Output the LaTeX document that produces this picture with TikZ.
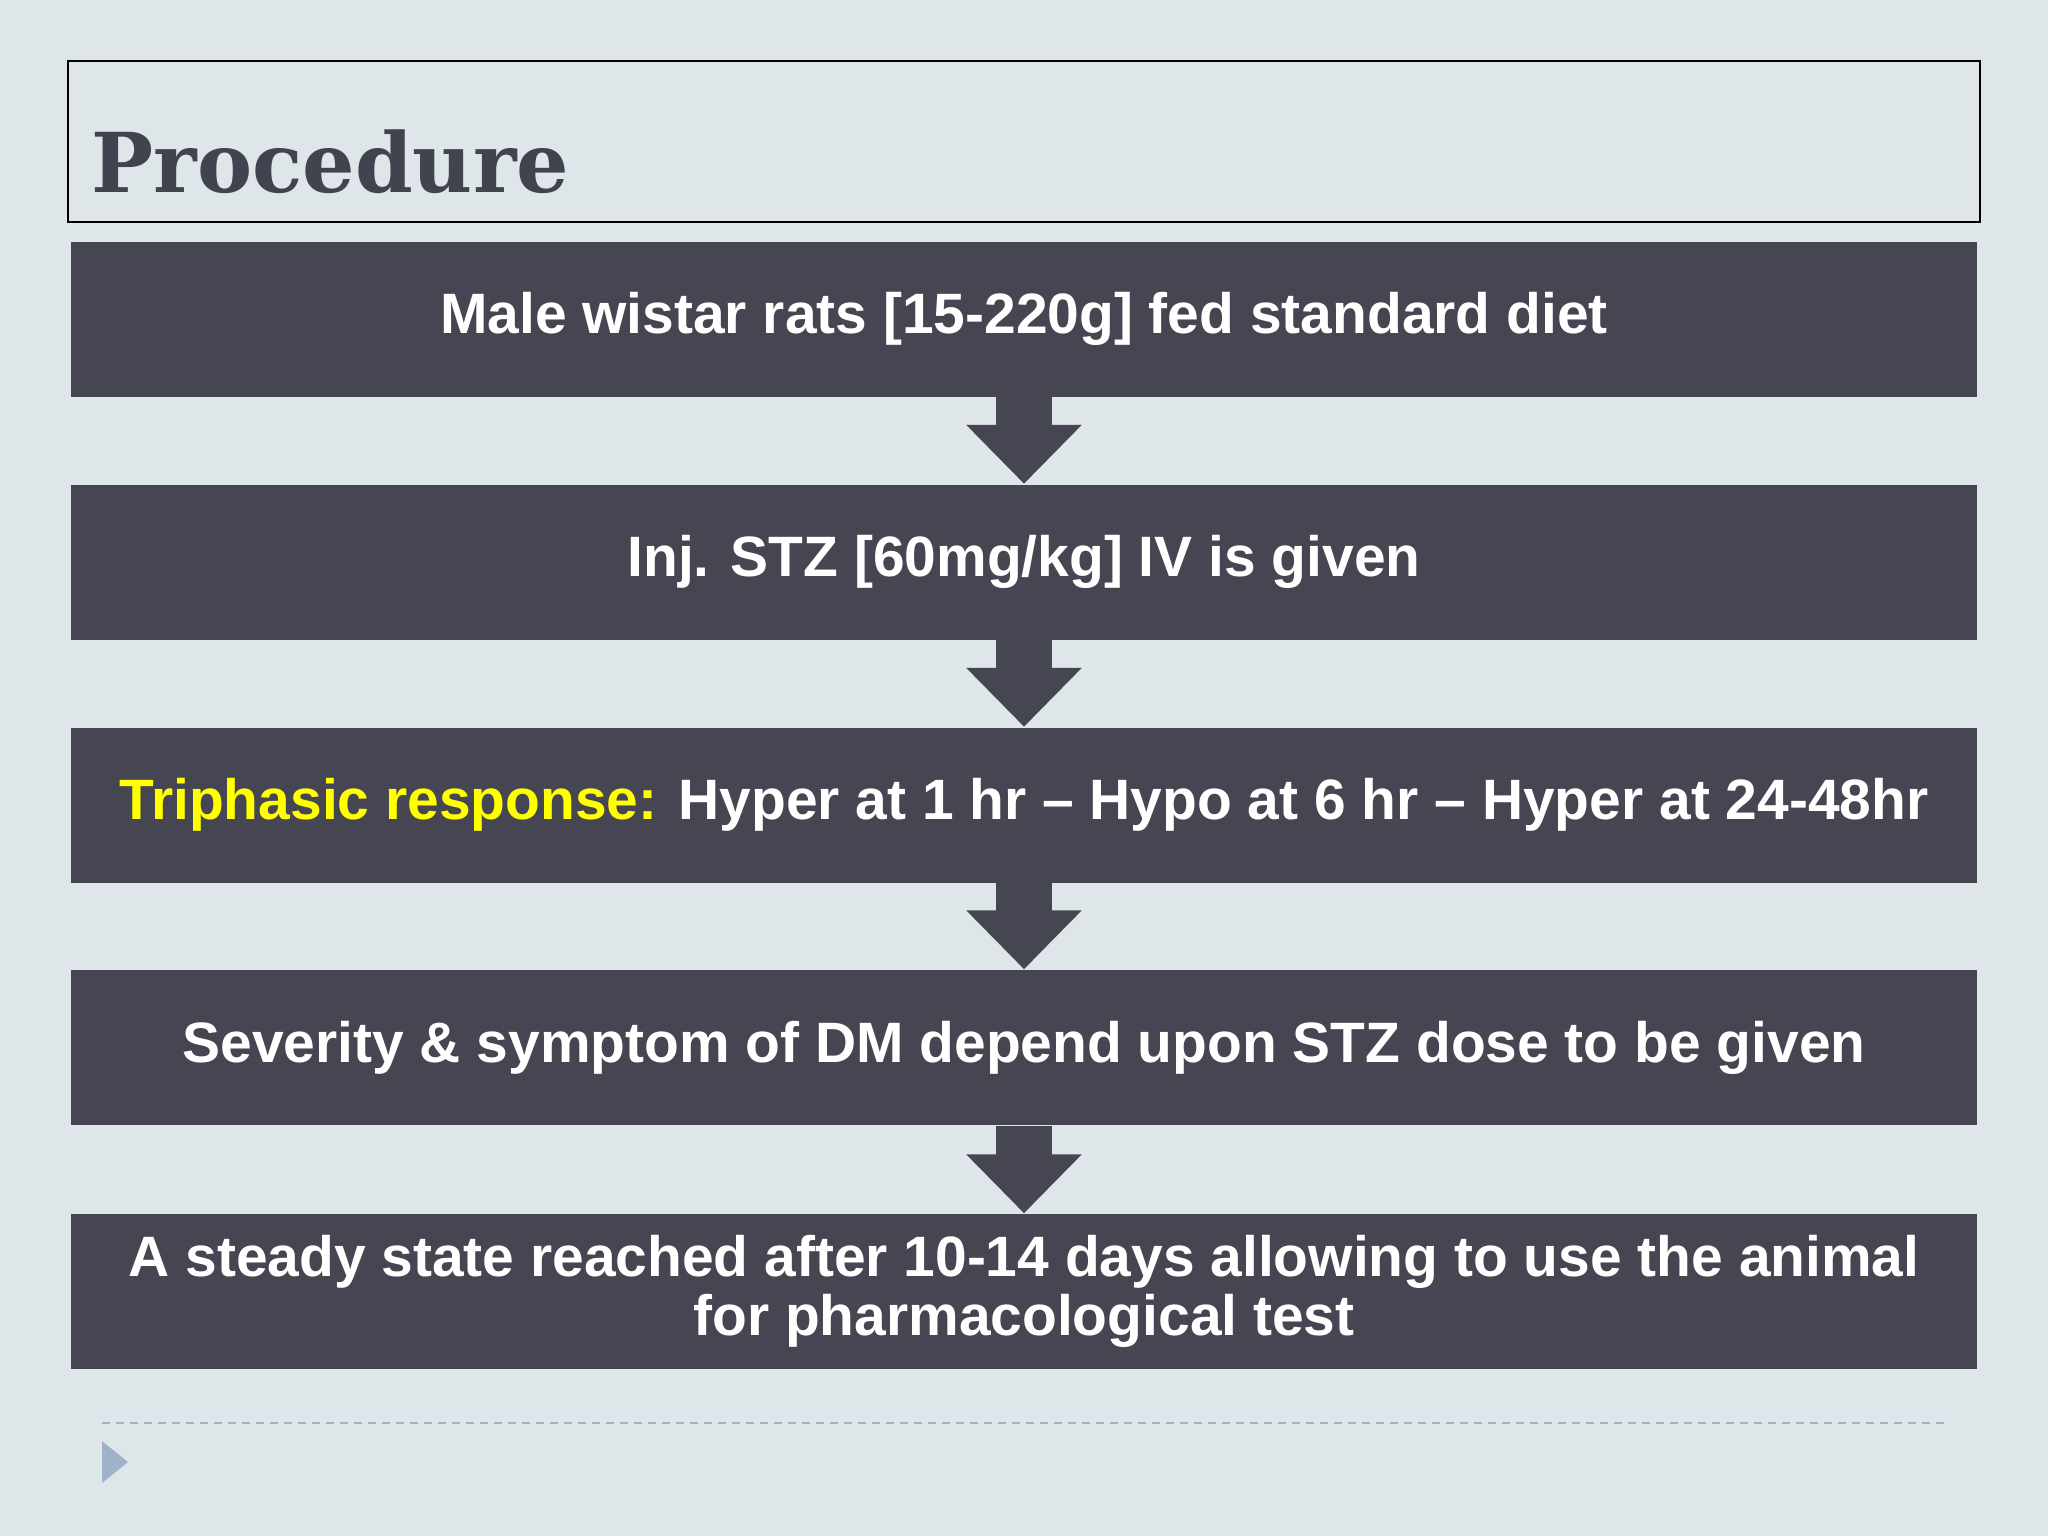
\documentclass[tikz,border=0pt]{standalone}
\usepackage{fontspec}
\setmainfont{Liberation Sans}
\newfontfamily\titlefont{DejaVu Serif}
\usetikzlibrary{arrows.meta}
\definecolor{bgcol}{HTML}{DFE6EA}
\definecolor{boxcol}{HTML}{454652}
\definecolor{titlecol}{HTML}{41444F}
\definecolor{dashcol}{HTML}{A0B2C6}
\definecolor{tricol}{HTML}{9FB2CA}
\definecolor{yel}{HTML}{FFFF00}
\tikzset{
  stepbox/.style={fill=boxcol, draw=none, minimum width=190.6mm, minimum height=15.5mm,
    inner sep=0pt, align=center, text=white, font=\fontsize{16.2}{16.6}\selectfont\bfseries},
  flowarrow/.style={draw=boxcol, line width=5.6mm, line cap=butt,
    -{Triangle[width=11.2mm,length=5.9mm]}, shorten >=0pt},
}
\begin{document}
\begin{tikzpicture}[x=0.1mm,y=-0.1mm]
\fill[bgcol] (0,0) rectangle (2048,1536);
\useasboundingbox (0,0) rectangle (2048,1536);
% title
\node[draw=black, line width=0.7pt, minimum width=191.2mm, minimum height=16.1mm, inner sep=0pt] (title) at (1024,141.5) {};
\node[anchor=base west, text=titlecol, font=\titlefont\bfseries\fontsize{23.5}{28}\selectfont, inner sep=0pt] (ttext) at (91,192) {Procedure};
% steps
\node[stepbox] (b1) at (1024,319) {Male wistar rats [15-220g] fed standard diet};
\node[stepbox] (b2) at (1024,562) {Inj. STZ [60mg/kg] IV is given};
\node[stepbox] (b3) at (1024,805) {\textcolor{yel}{Triphasic response:} Hyper at 1 hr -- Hypo at 6 hr -- Hyper at 24-48hr};
\node[stepbox] (b4) at (1024,1047.5) {Severity \& symptom of DM depend upon STZ dose to be given};
\node[stepbox] (b5) at (1024,1291.5) {A steady state reached after 10-14 days allowing to use the animal\\for pharmacological test};
\draw[flowarrow] (b1.south) -- (b2.north);
\draw[flowarrow] (b2.south) -- (b3.north);
\draw[flowarrow] (b3.south) -- (b4.north);
\draw[flowarrow] (b4.south) -- (b5.north);
% footer
\coordinate (d1) at (102,1423);
\coordinate (d2) at (1946,1423);
\draw[dashcol, line width=0.5pt, dash pattern=on 0.8mm off 0.6mm] (d1) -- (d2);
\fill[tricol] (102,1441) -- (128,1462) -- (102,1483) -- cycle;
\end{tikzpicture}
\end{document}
